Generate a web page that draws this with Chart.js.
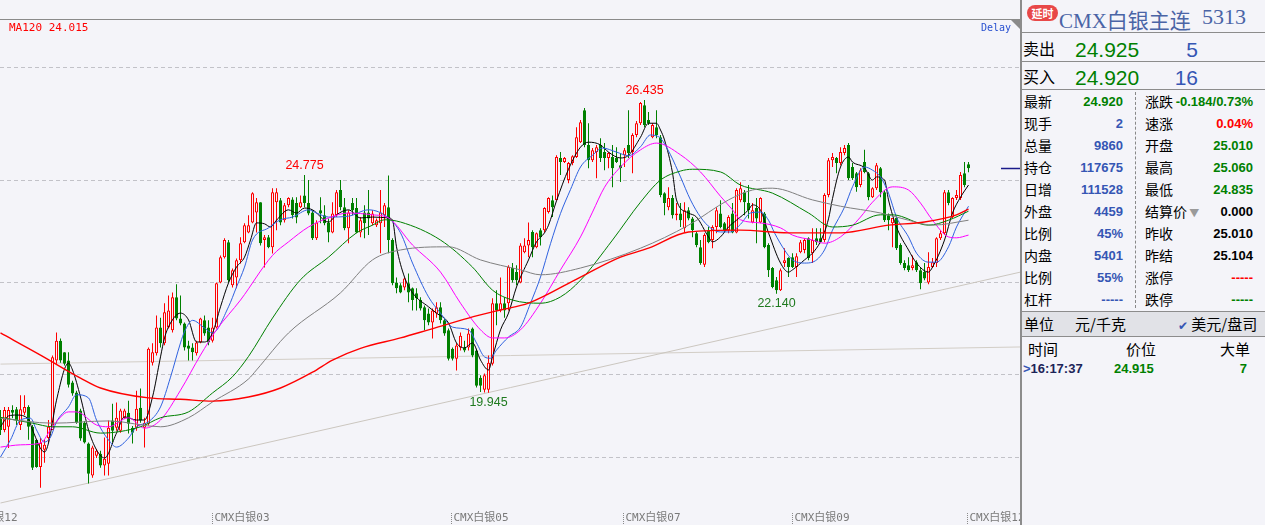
<!DOCTYPE html>
<html>
<head>
<meta charset="utf-8">
<script src="https://cdn.jsdelivr.net/npm/chart.js@4.4.0/dist/chart.umd.min.js"></script>
<style>
  body { margin: 0; background: #f4f4f9; width: 1265px; height: 525px; overflow: hidden; position: relative; font-family: "Noto Sans CJK SC", sans-serif; }
  #wrap { position: absolute; left: 0; top: 0; width: 1020px; height: 525px; }
  #panel { position: absolute; left: 1020px; top: 0; width: 245px; height: 525px; border-left: 2px solid #8c8c8c; box-sizing: border-box; }
  .t { position: absolute; white-space: nowrap; line-height: 1; }
  .hl { position: absolute; left: 0; width: 245px; height: 1px; background: #8c8c8c; }
  .lab { font-size: 14px; color: #000; }
  .val { font: bold 13px "Liberation Sans", Arial, sans-serif; }
  .big { font: 21px "Liberation Sans", Arial, sans-serif; }
  .blue { color: #3556b4; }
  .green { color: #008000; }
  .red { color: #ff0000; }
  .black { color: #000; }
  .badge { position: absolute; left: 5px; top: 5px; width: 31px; height: 16px; border-radius: 8px; background: #e84848; color: #fff; font: bold 11px "Noto Sans CJK SC"; line-height: 16px; text-align: center; }
</style>
</head>
<body>
<div id="wrap"><canvas id="chart" width="1020" height="525"></canvas></div>

<div id="panel">
  <div class="badge">延时</div>
  <div class="t" style="left:37px;top:4px;font:21px 'Liberation Serif','Noto Sans CJK SC';color:#4a64a6">CMX白银主连</div>
  <div class="t" style="left:180px;top:4px;font:22px 'Liberation Serif';color:#4a64a6">5313</div>
  <div class="hl" style="top:32px"></div>

  <div class="t" style="left:1px;top:40px;font-size:16px">卖出</div>
  <div class="t green big" style="left:53px;top:38px">24.925</div>
  <div class="t blue big" style="right:67px;top:38px">5</div>
  <div class="hl" style="top:61px"></div>

  <div class="t" style="left:1px;top:68px;font-size:16px">买入</div>
  <div class="t green big" style="left:53px;top:66px">24.920</div>
  <div class="t blue big" style="right:67px;top:66px">16</div>
  <div class="hl" style="top:89px"></div>

  <div style="position:absolute;left:113px;top:92px;height:216px;border-left:1px dashed #888"></div>

  <div class="t lab" style="left:2px;top:94px">最新</div><div class="t val green" style="right:142px;top:94px">24.920</div>
  <div class="t lab" style="left:2px;top:116px">现手</div><div class="t val blue" style="right:142px;top:116px">2</div>
  <div class="t lab" style="left:2px;top:138px">总量</div><div class="t val blue" style="right:142px;top:138px">9860</div>
  <div class="t lab" style="left:2px;top:160px">持仓</div><div class="t val blue" style="right:142px;top:160px">117675</div>
  <div class="t lab" style="left:2px;top:182px">日增</div><div class="t val blue" style="right:142px;top:182px">111528</div>
  <div class="t lab" style="left:2px;top:204px">外盘</div><div class="t val blue" style="right:142px;top:204px">4459</div>
  <div class="t lab" style="left:2px;top:226px">比例</div><div class="t val blue" style="right:142px;top:226px">45%</div>
  <div class="t lab" style="left:2px;top:248px">内盘</div><div class="t val blue" style="right:142px;top:248px">5401</div>
  <div class="t lab" style="left:2px;top:270px">比例</div><div class="t val blue" style="right:142px;top:270px">55%</div>
  <div class="t lab" style="left:2px;top:292px">杠杆</div><div class="t val blue" style="right:142px;top:292px">-----</div>

  <div class="t lab" style="left:123px;top:94px">涨跌</div><div class="t val green" style="right:12px;top:94px">-0.184/0.73%</div>
  <div class="t lab" style="left:123px;top:116px">速涨</div><div class="t val red" style="right:12px;top:116px">0.04%</div>
  <div class="t lab" style="left:123px;top:138px">开盘</div><div class="t val green" style="right:12px;top:138px">25.010</div>
  <div class="t lab" style="left:123px;top:160px">最高</div><div class="t val green" style="right:12px;top:160px">25.060</div>
  <div class="t lab" style="left:123px;top:182px">最低</div><div class="t val green" style="right:12px;top:182px">24.835</div>
  <div class="t lab" style="left:123px;top:204px">结算价<span style="color:#9a9a9a;font-size:10px"> ▼</span></div><div class="t val black" style="right:12px;top:204px">0.000</div>
  <div class="t lab" style="left:123px;top:226px">昨收</div><div class="t val black" style="right:12px;top:226px">25.010</div>
  <div class="t lab" style="left:123px;top:248px">昨结</div><div class="t val black" style="right:12px;top:248px">25.104</div>
  <div class="t lab" style="left:123px;top:270px">涨停</div><div class="t val red" style="right:12px;top:270px">-----</div>
  <div class="t lab" style="left:123px;top:292px">跌停</div><div class="t val green" style="right:12px;top:292px">-----</div>

  <div class="hl" style="top:311px"></div>
  <div style="position:absolute;left:0;top:312px;width:245px;height:24px;background:#e1e2e7"></div>
  <div class="t" style="left:2px;top:316px;font-size:15px">单位</div>
  <div class="t" style="left:53px;top:316px;font-size:15px">元/千克</div>
  <div class="t" style="left:156px;top:316px;font-size:15px"><span style="color:#3556b4;font-size:12px">✔</span> 美元/盘司</div>
  <div class="hl" style="top:336px"></div>

  <div class="t" style="left:6px;top:341px;font-size:15px">时间</div>
  <div class="t" style="left:104px;top:341px;font-size:15px">价位</div>
  <div class="t" style="left:198px;top:341px;font-size:15px">大单</div>
  <div class="t val" style="left:1px;top:361px;color:#1c2458"><span style="color:#3556b4">&gt;</span>16:17:37</div>
  <div class="t val green" style="left:92px;top:361px">24.915</div>
  <div class="t val green" style="right:18px;top:361px">7</div>
</div>

<script>
// candles, one per bar, oldest first
const opens = [
  19.38, 19.12, 19.19, 19.56, 19.58, 19.23, 19.50, 19.63, 19.19, 18.90,
  18.30, 18.68, 18.94, 19.12, 20.66, 21.10, 20.84, 20.66, 20.17, 19.95,
  19.55, 19.28, 18.82, 18.11, 18.55, 18.59, 18.33, 18.37, 19.33, 19.17,
  19.10, 19.39, 19.50, 19.17, 19.17, 19.61, 19.17, 19.26, 20.61, 20.82,
  21.39, 21.04, 21.39, 21.33, 22.06, 21.59, 21.48, 20.99, 20.95, 20.82,
  21.06, 21.55, 21.39, 21.10, 21.39, 22.39, 22.95, 23.28, 22.33, 22.50,
  22.88, 23.28, 23.50, 23.72, 23.94, 24.17, 23.33, 23.39, 23.17, 24.17,
  24.21, 23.77, 24.10, 24.23, 24.15, 24.06, 24.32, 24.15, 23.94, 23.37,
  23.99, 23.88, 23.72, 23.50, 23.88, 24.44, 24.06, 23.59, 24.15, 24.04,
  23.50, 23.94, 23.94, 23.70, 23.66, 23.70, 23.88, 24.06, 23.33, 22.39,
  22.33, 22.28, 22.37, 22.26, 22.15, 22.00, 21.84, 21.70, 21.50, 21.70,
  21.84, 21.55, 21.33, 20.92, 20.70, 20.95, 20.95, 20.95, 21.37, 20.88,
  20.28, 20.01, 20.01, 20.59, 21.93, 21.77, 21.93, 21.93, 22.71, 22.62,
  22.39, 23.06, 23.21, 23.51, 23.17, 23.55, 23.55, 23.95, 24.21, 24.21,
  25.15, 25.06, 24.66, 25.04, 25.17, 25.50, 26.21, 25.44, 25.10, 25.28,
  25.44, 25.28, 25.15, 25.17, 25.15, 24.99, 25.21, 25.44, 25.28, 25.66,
  25.92, 26.32, 25.99, 25.61, 25.83, 25.61, 24.37, 24.06, 24.26, 23.88,
  23.92, 23.59, 23.99, 23.81, 23.48, 23.17, 22.78, 23.55, 23.33, 23.62,
  23.92, 23.70, 23.55, 23.92, 23.50, 24.21, 24.39, 24.15, 23.72, 24.04,
  23.72, 23.92, 23.22, 22.71, 22.44, 22.22, 22.82, 22.93, 22.95, 22.73,
  23.06, 23.11, 23.37, 23.04, 23.37, 23.37, 23.33, 24.33, 25.10, 25.15,
  25.04, 25.26, 25.44, 24.95, 24.81, 24.55, 25.06, 24.81, 24.28, 24.48,
  24.92, 24.39, 23.88, 23.70, 23.82, 23.22, 22.82, 22.77, 22.71, 22.84,
  22.66, 22.62, 22.39, 22.73, 22.82, 23.37, 23.48, 24.39, 23.84, 24.26,
  24.26, 24.81, 25.01
];
const highs = [
  19.56, 19.63, 19.63, 19.67, 19.63, 19.89, 19.89, 19.67, 19.23, 18.90,
  18.94, 18.90, 19.34, 20.77, 21.28, 21.15, 20.84, 20.84, 20.21, 19.99,
  19.59, 19.32, 18.84, 18.77, 18.70, 18.66, 18.95, 19.33, 19.70, 19.73,
  19.59, 19.59, 19.77, 19.21, 19.99, 20.04, 19.39, 20.95, 21.04, 21.66,
  21.61, 21.93, 22.10, 22.17, 22.35, 22.10, 21.50, 21.10, 21.04, 21.10,
  21.61, 21.66, 21.55, 21.61, 22.39, 22.99, 23.37, 23.33, 22.70, 22.92,
  23.39, 23.70, 23.88, 24.39, 24.26, 24.17, 23.44, 23.44, 24.48, 24.48,
  24.26, 24.15, 24.28, 24.28, 24.28, 24.32, 24.775, 24.66, 23.99, 23.77,
  24.28, 24.10, 23.81, 24.17, 24.44, 24.66, 24.26, 23.99, 24.26, 24.26,
  23.84, 24.10, 24.44, 23.99, 23.81, 24.44, 24.15, 24.76, 23.37, 22.50,
  22.37, 22.50, 22.59, 22.28, 22.26, 22.06, 21.88, 21.81, 21.81, 21.95,
  21.95, 21.59, 21.37, 20.95, 21.04, 21.28, 21.10, 21.37, 21.39, 20.92,
  20.33, 20.37, 20.77, 22.04, 22.22, 22.50, 22.06, 22.77, 22.82, 22.77,
  23.26, 23.37, 23.72, 23.55, 23.50, 23.59, 24.06, 24.28, 24.32, 25.21,
  25.28, 25.17, 25.06, 25.21, 25.83, 25.99, 26.26, 25.92, 25.37, 25.44,
  25.59, 25.48, 25.28, 25.44, 25.39, 25.26, 25.37, 26.21, 25.70, 25.97,
  26.39, 26.435, 26.17, 25.92, 26.21, 25.66, 24.39, 24.50, 24.33, 24.15,
  24.15, 24.17, 24.06, 23.84, 23.51, 23.33, 23.48, 23.62, 23.66, 24.06,
  24.21, 23.73, 23.88, 24.15, 24.48, 24.61, 24.44, 24.55, 24.15, 24.26,
  24.28, 23.95, 23.26, 22.73, 22.51, 22.70, 23.15, 22.95, 23.04, 23.04,
  23.33, 23.37, 23.39, 23.59, 23.59, 23.59, 24.37, 25.15, 25.26, 25.17,
  25.39, 25.44, 25.48, 25.04, 24.84, 24.92, 25.33, 24.84, 24.50, 25.04,
  24.95, 24.44, 23.92, 23.82, 23.84, 23.26, 22.88, 22.95, 22.99, 22.88,
  22.71, 22.82, 23.06, 22.93, 23.39, 23.55, 24.44, 24.44, 24.28, 24.44,
  24.84, 25.06, 25.06
];
const lows = [
  19.01, 19.07, 18.72, 19.38, 19.23, 19.12, 19.45, 18.90, 18.23, 18.28,
  17.84, 18.39, 18.85, 19.12, 20.59, 20.61, 20.55, 20.06, 19.88, 19.26,
  18.88, 18.82, 17.93, 18.06, 18.50, 18.28, 18.11, 18.11, 18.84, 19.10,
  19.06, 19.37, 19.04, 18.82, 19.10, 19.28, 18.73, 19.22, 20.55, 20.77,
  20.95, 21.00, 21.37, 21.28, 21.55, 21.44, 20.88, 20.66, 20.66, 20.77,
  21.04, 21.21, 21.00, 21.06, 21.37, 22.37, 22.92, 22.39, 22.28, 22.26,
  22.81, 23.26, 23.48, 23.70, 23.50, 23.21, 22.72, 23.15, 23.03, 23.55,
  23.66, 23.72, 24.06, 23.81, 23.70, 24.04, 24.06, 23.88, 23.33, 23.33,
  23.70, 23.66, 23.28, 23.48, 23.84, 23.99, 23.55, 23.26, 23.88, 23.48,
  23.39, 23.37, 23.44, 23.66, 23.62, 23.04, 23.62, 23.04, 22.33, 22.15,
  22.15, 22.22, 21.95, 21.77, 21.77, 21.77, 21.33, 21.44, 21.15, 21.61,
  21.48, 21.21, 20.66, 20.66, 20.44, 20.88, 20.84, 20.88, 20.73, 20.06,
  19.96, 19.95, 19.945, 20.55, 21.44, 21.73, 21.61, 21.77, 22.39, 22.33,
  22.37, 23.04, 22.95, 22.95, 23.15, 23.21, 23.50, 23.92, 23.84, 24.21,
  24.77, 25.04, 24.59, 24.99, 25.15, 25.48, 25.39, 24.92, 25.06, 24.70,
  25.06, 24.88, 24.92, 24.50, 25.04, 24.62, 24.95, 25.15, 24.81, 25.61,
  25.88, 25.83, 25.88, 25.59, 25.59, 24.28, 23.88, 23.99, 23.81, 23.77,
  23.62, 23.50, 23.77, 23.39, 23.17, 22.78, 22.73, 23.26, 23.15, 23.48,
  23.59, 23.50, 23.48, 23.48, 23.48, 24.17, 23.88, 23.81, 23.70, 23.26,
  23.70, 23.15, 22.51, 22.26, 22.14, 22.20, 22.73, 22.51, 22.71, 22.51,
  23.04, 23.04, 22.88, 22.82, 23.22, 23.26, 23.28, 24.28, 24.95, 24.81,
  24.99, 25.21, 24.66, 24.66, 24.40, 24.50, 24.81, 24.21, 24.26, 24.44,
  24.28, 23.73, 23.55, 23.17, 23.11, 22.78, 22.66, 22.62, 22.66, 22.62,
  22.24, 22.44, 22.35, 22.71, 22.73, 23.33, 23.44, 24.10, 23.82, 24.22,
  24.22, 24.50, 24.835
];
const closes = [
  19.12, 19.56, 19.56, 19.50, 19.34, 19.58, 19.63, 19.19, 18.28, 18.30,
  18.83, 18.79, 19.19, 20.73, 21.10, 20.66, 20.59, 20.12, 19.93, 19.28,
  18.93, 18.84, 18.15, 18.73, 18.66, 18.33, 18.48, 19.17, 19.10, 19.39,
  19.55, 19.55, 19.26, 19.06, 19.59, 19.33, 19.28, 20.92, 20.84, 21.39,
  21.04, 21.73, 21.77, 22.06, 21.59, 21.48, 20.95, 20.92, 20.84, 21.06,
  21.59, 21.26, 21.06, 21.39, 22.37, 22.95, 23.33, 22.44, 22.66, 22.88,
  23.26, 23.66, 23.66, 24.37, 24.17, 23.26, 23.39, 23.17, 24.39, 24.39,
  23.72, 24.10, 24.26, 23.88, 23.83, 24.17, 24.15, 23.92, 23.37, 23.72,
  23.92, 23.70, 23.50, 23.92, 24.39, 24.06, 23.59, 23.94, 23.99, 23.50,
  23.77, 23.70, 23.81, 23.92, 23.77, 23.94, 24.10, 23.33, 22.37, 22.26,
  22.17, 22.48, 22.17, 22.00, 22.04, 21.81, 21.55, 21.50, 21.77, 21.84,
  21.55, 21.26, 20.70, 20.70, 20.99, 21.21, 20.88, 21.26, 20.77, 20.10,
  20.10, 20.33, 20.61, 21.93, 21.77, 21.93, 21.77, 22.73, 22.44, 22.44,
  23.21, 23.21, 23.33, 23.17, 23.48, 23.39, 24.04, 24.26, 24.06, 25.17,
  25.06, 25.15, 25.04, 25.19, 25.61, 25.94, 25.44, 25.10, 25.32, 25.39,
  25.15, 25.15, 25.26, 24.92, 25.06, 24.92, 25.32, 25.26, 25.66, 25.92,
  26.37, 25.88, 25.92, 25.88, 25.66, 24.33, 24.15, 24.26, 23.88, 23.92,
  23.77, 23.99, 23.81, 23.55, 23.22, 22.82, 23.44, 23.28, 23.62, 23.99,
  23.62, 23.55, 23.84, 23.50, 24.44, 24.48, 24.17, 23.99, 23.99, 23.81,
  24.26, 23.17, 22.66, 22.29, 22.22, 22.66, 22.88, 22.73, 22.73, 22.97,
  23.28, 23.33, 22.93, 23.33, 23.28, 23.28, 24.33, 25.10, 25.17, 25.04,
  25.28, 25.37, 24.70, 24.70, 24.50, 24.88, 24.84, 24.28, 24.48, 24.99,
  24.39, 23.77, 23.77, 23.82, 23.15, 22.82, 22.71, 22.66, 22.77, 22.66,
  22.37, 22.48, 22.73, 22.84, 23.37, 23.48, 24.39, 24.15, 24.26, 24.33,
  24.77, 24.55, 24.92
];

// moving averages (bar index, price)
const ma5X = [0,2,4,7,8,11,12,14,17,18,20,22,24,26,29,31,34,36,38,40,41,42.5,45,47,49,51,53,55,57,59,61,62.5,64,66,67.5,69,72,74,76,78,82,84,87,90,93,97,98,99,101,103,107,109,112,114,116,118,120,122,123,125,127,129,132,134,136,137,139,142,145,147,150,152,155,157,160,162,164,165,166,168,169,172,174,177,178,180,182,184,187,188,190,192,195,197,198,201,203,205,207,208,210,212,213,216,218,219,221,222,224,227,229,232,233,236,238,240,242];
const ma5Y = [19.19,19.43,19.45,19.36,19.12,18.63,18.83,19.78,20.60,20.45,19.85,19.12,18.68,18.50,19.05,19.41,19.34,19.34,19.85,20.74,21.16,21.49,21.71,21.56,21.07,21.07,21.27,21.85,22.38,22.73,22.95,23.33,23.71,23.69,23.62,23.77,24.00,23.93,24.04,24.00,23.73,23.89,24.00,23.82,23.84,23.82,23.77,23.18,22.51,22.16,21.85,21.71,21.49,21.05,20.94,21.05,20.67,20.45,20.74,21.34,21.71,22.29,22.89,23.29,23.49,23.66,24.20,24.90,25.39,25.50,25.44,25.28,25.15,25.21,25.61,25.92,25.92,25.77,25.55,24.82,24.22,23.93,23.84,23.40,23.29,23.40,23.62,23.77,24.00,24.11,23.99,23.49,22.82,22.62,22.67,22.89,23.04,23.30,23.80,24.25,24.95,25.17,25.06,24.93,24.66,24.73,24.66,24.22,23.62,23.11,22.82,22.62,22.73,23.33,23.93,24.28,24.55];

const ma10X = [0,2.5,5,7.5,9,11,12.5,14,17,19,22,24,27,29,32,34,37,40,42.5,45,46,48,51,53,57,59,61,63,67,70,73,77,79,82,87,92,97,100,103,107,110,113,117,119,121,122.5,124,127,130,132.5,135,137.5,140,142.5,145,148,150.5,154,157,160,162.5,164,165,167.5,170,172.5,175,177.5,180,182.5,185,187.5,190,192,193.5,196,198,201,203,206,208,211,213,216,218,220,222,224,227,229,232,234,237,239,242];
const ma10Y = [18.52,18.90,19.34,19.38,19.12,18.85,18.96,19.30,19.63,19.90,19.83,19.34,18.90,18.74,18.94,19.19,19.30,19.63,20.29,21.05,21.30,21.55,21.38,21.27,21.85,22.29,22.73,23.33,23.60,23.78,23.84,24.00,23.93,23.84,23.86,24.00,23.82,23.49,22.82,22.07,21.71,21.40,21.34,21.05,20.74,20.71,20.89,21.18,21.40,21.93,22.51,23.25,23.92,24.45,24.95,25.21,25.37,25.28,25.20,25.40,25.66,25.64,25.59,25.22,24.73,24.22,23.84,23.60,23.51,23.51,23.68,23.93,23.95,23.77,23.49,23.11,22.89,22.82,22.84,23.11,23.55,24.06,24.51,24.95,24.88,24.73,24.37,23.84,23.40,23.04,22.84,22.84,23.18,23.62,24.08];

const ma20X = [0,5,10,13,17,19,24,27,32,36,40,45,50,54,60,68,72,77,82,87,93,97,103,110,115,120,123,126,130,135,140,145,148,151,155,160,164,170,175,180,183,185,190,195,198,203,206,210,215,218,223,227,230,233,237,239,242];
const ma20Y = [18.74,18.79,18.83,19.19,19.52,19.52,19.23,19.19,19.39,19.16,19.34,20.00,20.78,21.34,22.00,22.99,23.29,23.62,23.82,23.93,23.89,23.82,23.22,22.62,21.93,21.34,21.16,21.16,21.34,21.93,22.67,23.40,23.95,24.50,24.95,25.33,25.48,25.22,24.84,24.30,24.00,23.78,23.71,23.60,23.44,23.33,23.26,23.40,23.84,24.17,24.51,24.44,24.15,23.77,23.40,23.38,23.44];

const ma40X = [0,8,13,18,25,35,40,47,53,58,62,68,75,82,89,93,96,100,110,118,123,128,135,140,145,153,160,165,170,173,180,185,193,202,208,213,220,223,232,237,242];
const ma40Y = [19.40,19.27,19.19,19.19,19.05,19.19,19.39,19.52,19.94,20.30,20.75,21.60,22.45,22.95,23.49,23.66,23.78,23.73,23.33,22.73,22.22,22.00,21.93,22.07,22.44,23.33,24.17,24.66,24.86,24.90,24.84,24.55,24.37,23.93,23.62,23.66,23.89,23.89,23.66,23.77,23.97];

const ma60X = [0,13,27,40,47,53,62,64,72,85,93,100,112,120,130,135,145,160,172,182,188,193,203,210,220,227,233,242];
const ma60Y = [19.38,19.27,19.32,19.19,19.39,19.74,20.25,20.45,21.27,22.16,22.89,23.11,23.18,22.89,22.67,22.56,22.71,23.15,23.66,24.22,24.44,24.48,24.22,24.08,23.93,23.77,23.66,23.77];

const ma120X = [0,10,20,25,37,45,53,62,70,78,83,90,100,107,117,125,132,145,155,162,172,185,197,210,222,231,239,242];
const ma120Y = [21.27,20.78,20.27,20.05,19.83,19.80,19.76,19.85,20.05,20.40,20.67,20.93,21.16,21.34,21.60,21.78,21.93,22.51,22.95,23.15,23.51,23.55,23.49,23.49,23.66,23.73,23.89,24.015];

// two drawn trend lines
const trendAX = [0, 255], trendAY = [17.50, 22.62];
const trendBX = [0, 255], trendBY = [20.58, 20.96];

// dashed price grid
const gridPrices = [18.50, 20.36, 22.40, 24.66, 27.145];

// marked highs and lows
const markIdx = [76, 161, 122, 194];
const markVal = [24.775, 26.435, 19.945, 22.14];
const markUp = [true, true, false, false];

// contract labels along the bottom
const xLabelIdx = [-10.25, 52.75, 112.5, 155.5, 197.75, 241.5];
const xLabelText = ["CMX白银12", "CMX白银03", "CMX白银05", "CMX白银07", "CMX白银09", "CMX白银12"];

const BG = "#f4f4f9", UP = "#ff0000", DOWN = "#008000";
const isUp = i => closes[i] >= opens[i];
const pts = (xs, ys) => xs.map((x, k) => ({ x: x, y: ys[k] }));

const maLine = (xs, ys, color, width) => ({
  type: "line",
  data: pts(xs, ys),
  borderColor: color,
  borderWidth: width,
  pointRadius: 0,
  cubicInterpolationMode: "monotone",
  order: 1
});

const overlay = {
  id: "overlay",
  beforeDraw(chart) {
    const ctx = chart.ctx;
    ctx.save();
    ctx.fillStyle = BG;
    ctx.fillRect(0, 0, chart.width, chart.height);
    ctx.restore();
  },
  afterDraw(chart) {
    const { ctx, scales: { x, y } } = chart;
    ctx.save();

    // top border and corner mark
    ctx.strokeStyle = "#8a8a8a";
    ctx.lineWidth = 1;
    ctx.beginPath();
    ctx.moveTo(0, 19.5);
    ctx.lineTo(1020, 19.5);
    ctx.stroke();
    ctx.fillStyle = "#8a8a8a";
    ctx.beginPath();
    ctx.moveTo(1011, 20);
    ctx.lineTo(1020, 20);
    ctx.lineTo(1020, 29);
    ctx.closePath();
    ctx.fill();

    // MA120 caption, Delay tag
    ctx.textBaseline = "middle";
    ctx.font = "11px 'DejaVu Sans Mono'";
    ctx.fillStyle = "#ff0000";
    ctx.textAlign = "left";
    ctx.fillText("MA120 " + ma120Y[ma120Y.length - 1].toFixed(3), 9, 28);
    ctx.font = "10px 'DejaVu Sans Mono'";
    ctx.fillStyle = "#2850d0";
    ctx.fillText("Delay", 981, 28);

    // high / low labels
    ctx.font = "12.5px 'Liberation Sans'";
    ctx.textAlign = "center";
    markIdx.forEach((idx, k) => {
      const px = x.getPixelForValue(idx);
      const py = y.getPixelForValue(markVal[k]);
      ctx.fillStyle = markUp[k] ? "#ff0000" : "#1f7a1f";
      ctx.fillText(markVal[k].toFixed(3), px, markUp[k] ? py - 9 : py + 10);
    });

    // last price marker on the right edge
    const lastY = Math.round(y.getPixelForValue(closes[closes.length - 1])) + 0.5;
    ctx.strokeStyle = "#1a1a8a";
    ctx.lineWidth = 1.5;
    ctx.beginPath();
    ctx.moveTo(1001, lastY);
    ctx.lineTo(1020, lastY);
    ctx.stroke();

    // contract labels
    ctx.font = "11px 'DejaVu Sans Mono', 'Noto Sans CJK SC'";
    ctx.textAlign = "left";
    ctx.fillStyle = "#7a7a7a";
    ctx.strokeStyle = "#8a8a8a";
    ctx.lineWidth = 1;
    ctx.setLineDash([1, 1]);
    xLabelIdx.forEach((idx, k) => {
      const px = Math.round(x.getPixelForValue(idx)) + 0.5;
      ctx.beginPath();
      ctx.moveTo(px, 513);
      ctx.lineTo(px, 525);
      ctx.stroke();
      ctx.fillText(xLabelText[k], px + 2, 518);
    });
    ctx.restore();
  }
};

new Chart(document.getElementById("chart"), {
  type: "bar",
  data: {
    datasets: [
      { type: "line", data: pts(trendAX, trendAY), borderColor: "#cbc6bf", borderWidth: 1, pointRadius: 0, order: 6 },
      { type: "line", data: pts(trendBX, trendBY), borderColor: "#d3cec7", borderWidth: 1, pointRadius: 0, order: 6 },
      {
        type: "bar",
        data: highs.map((h, i) => ({ x: i, y: [lows[i], h] })),
        backgroundColor: c => isUp(c.dataIndex) ? UP : DOWN,
        barThickness: 1,
        grouped: false,
        inflateAmount: 0,
        order: 5
      },
      {
        type: "bar",
        data: opens.map((o, i) => ({ x: i, y: [o, closes[i]] })),
        backgroundColor: c => isUp(c.dataIndex) ? BG : DOWN,
        borderColor: c => isUp(c.dataIndex) ? UP : DOWN,
        borderWidth: 1,
        borderSkipped: false,
        barThickness: 3,
        minBarLength: 1,
        grouped: false,
        inflateAmount: 0,
        order: 4
      },
      maLine(ma120X, ma120Y, "#ff0000", 1.4),
      maLine(ma60X, ma60Y, "#808080", 1),
      maLine(ma40X, ma40Y, "#008000", 1),
      maLine(ma20X, ma20Y, "#ff00ff", 1),
      maLine(ma10X, ma10Y, "#2f62e0", 1),
      maLine(ma5X, ma5Y, "#000000", 1)
    ]
  },
  options: {
    responsive: false,
    animation: false,
    events: [],
    layout: { padding: { top: 20, bottom: 20, left: 0, right: 0 } },
    plugins: { legend: { display: false }, tooltip: { enabled: false } },
    scales: {
      x: { type: "linear", min: -0.125, max: 254.875, offset: false, display: false },
      y: {
        min: 17.456,
        max: 28.209,
        afterBuildTicks: s => { s.ticks = gridPrices.map(v => ({ value: v })); },
        afterFit: s => { s.width = 0; },
        ticks: { display: false },
        grid: { color: "#c2c2c8", drawTicks: false, lineWidth: 1 },
        border: { display: false, dash: [4, 3] }
      }
    }
  },
  plugins: [overlay]
});
</script>
</body>
</html>
